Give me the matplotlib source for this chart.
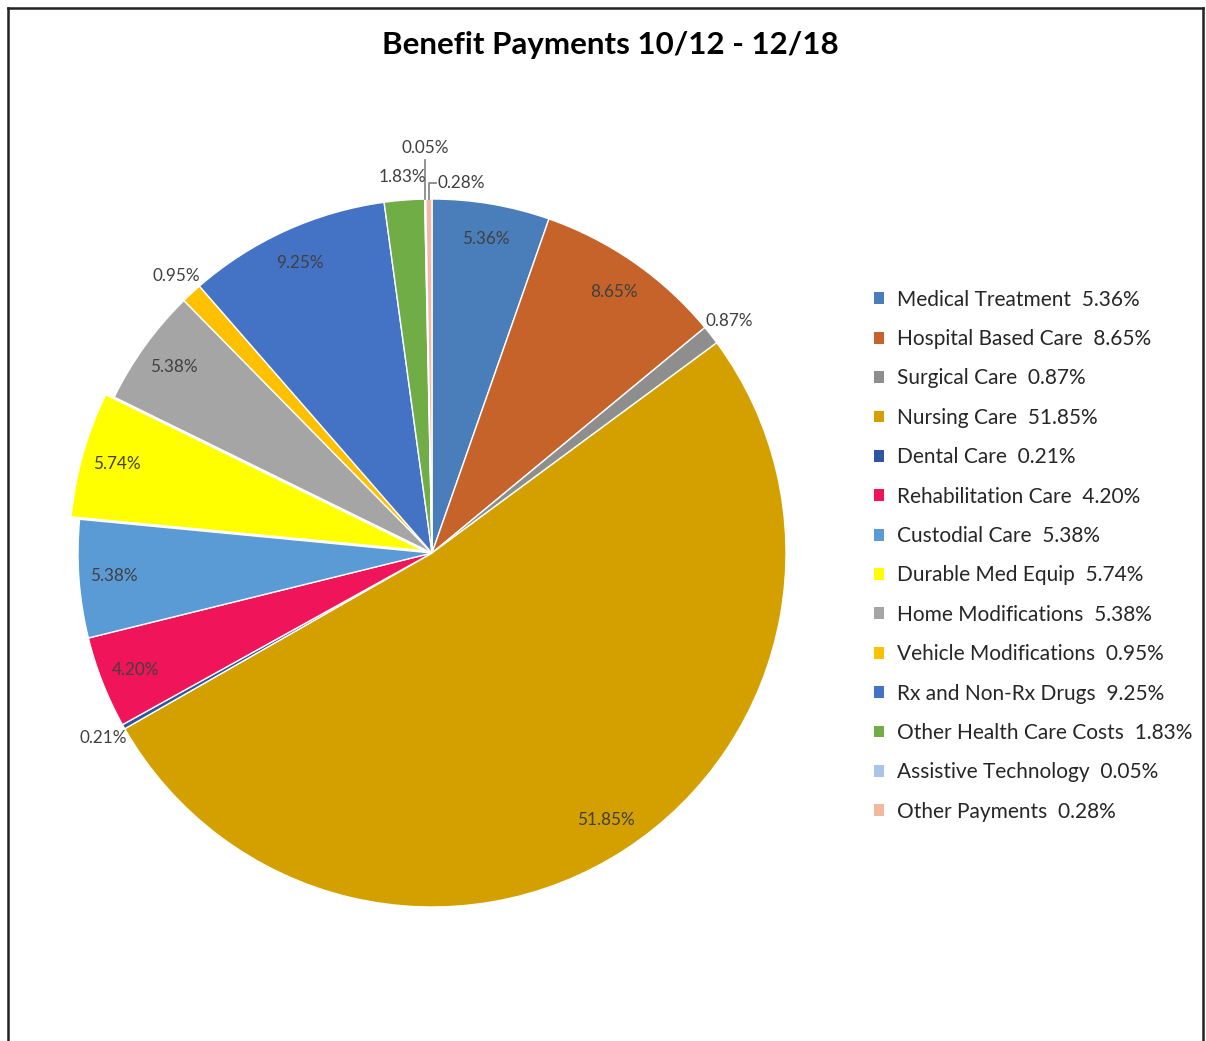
import numpy as np
import matplotlib
matplotlib.use("Agg")
import matplotlib.pyplot as plt
from matplotlib.lines import Line2D

title = "Benefit Payments 10/12 - 12/18"
categories = ["Medical Treatment", "Hospital Based Care", "Surgical Care", "Nursing Care",
              "Dental Care", "Rehabilitation Care", "Custodial Care", "Durable Med Equip",
              "Home Modifications", "Vehicle Modifications", "Rx and Non-Rx Drugs",
              "Other Health Care Costs", "Assistive Technology", "Other Payments"]
values = [5.36, 8.65, 0.87, 51.85, 0.21, 4.20, 5.38, 5.74, 5.38, 0.95, 9.25, 1.83, 0.05, 0.28]
colors = ["#4A7EBB", "#C5632A", "#8E8E8E", "#D4A000", "#2F55A0", "#F0145A", "#5B9BD5",
          "#FFFF00", "#A5A5A5", "#FFC000", "#4472C4", "#70AD47", "#A9C4EB", "#F4B7A0"]

W, H = 1206, 1041
cx, cy, R = 432, 553, 354

plt.rcParams['font.family'] = ['Lato', 'DejaVu Sans']
fig = plt.figure(figsize=(W / 100, H / 100), dpi=100)
ax = fig.add_axes([0, 0, 1, 1])

explode = [0.0] * len(values)
explode[categories.index("Durable Med Equip")] = 0.025
wedges, _ = ax.pie(values, colors=colors, startangle=90, counterclock=False,
                   explode=explode, radius=1.0,
                   wedgeprops=dict(edgecolor='white', linewidth=1.0))
ax.set_xlim(-cx / R, (W - cx) / R)
ax.set_ylim(-(H - cy) / R, cy / R)
ax.set_aspect('equal')
ax.axis('off')

# data labels
small = {"Surgical Care", "Dental Care", "Vehicle Modifications", "Other Health Care Costs"}
txtc = "#404040"
fs = 12.3
for w, cat, v in zip(wedges, categories, values):
    th = np.deg2rad(0.5 * (w.theta1 + w.theta2))
    cxw, cyw = w.center
    lab = f"{v:.2f}%"
    if cat == "Assistive Technology":
        ex, ey = cxw + np.cos(th), cyw + np.sin(th)
        ax.plot([ex, ex], [ey, ey + 0.11], color="#7f7f7f", lw=1.2)
        ax.text(ex, ey + 0.145, lab, ha='center', va='center', fontsize=fs, color=txtc)
    elif cat == "Other Payments":
        ex, ey = cxw + np.cos(th), cyw + np.sin(th)
        ax.plot([ex, ex, ex + 0.02], [ey, ey + 0.045, ey + 0.045], color="#7f7f7f", lw=1.2)
        ax.text(ex + 0.025, ey + 0.045, lab, ha='left', va='center', fontsize=fs, color=txtc)
    else:
        r = 1.065 if cat in small else 0.9
        ax.text(cxw + r * np.cos(th), cyw + r * np.sin(th), lab, ha='center', va='center',
                fontsize=fs, color=txtc)

# legend
labels = [f"{c}  {v:.2f}%" for c, v in zip(categories, values)]
leg = fig.legend(wedges, labels, loc='upper left', bbox_to_anchor=(855 / W, 1 - 271 / H),
                 frameon=False, fontsize=15, handlelength=0.5, handleheight=0.5,
                 handletextpad=0.6, labelspacing=0.93, labelcolor="#262626")
for hdl in leg.legend_handles:
    hdl.set_edgecolor('none')

fig.text(610 / W, 1 - 45 / H, title, ha='center', va='center', fontsize=22.5,
         fontweight='bold', color='black')

# border
for xs, ys in [([8, 1203], [8, 8]), ([8, 8], [8, H]), ([1203, 1203], [8, H])]:
    fig.add_artist(Line2D([x / W for x in xs], [1 - y / H for y in ys],
                          color='#222222', lw=1.8))

fig.savefig("out.png", dpi=100)
